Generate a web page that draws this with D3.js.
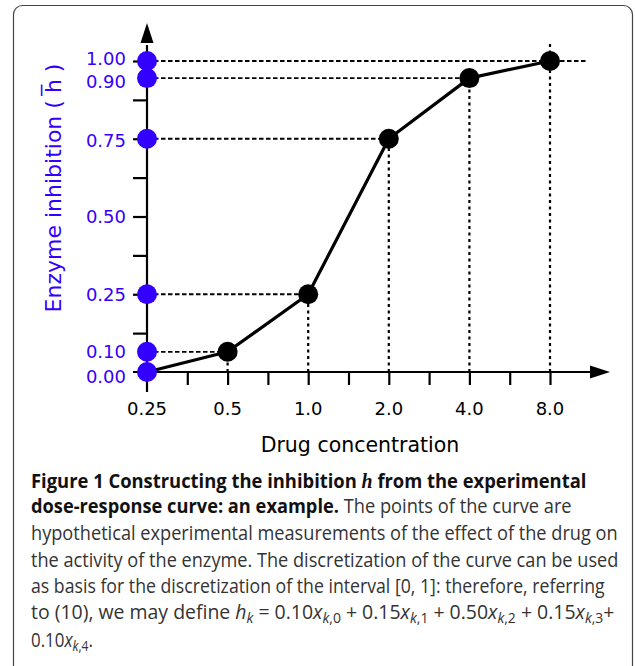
<!DOCTYPE html>
<html>
<head>
<meta charset="utf-8">
<script src="https://cdn.jsdelivr.net/npm/d3@7"></script>
<style>
  body { margin: 0; background: #fff; }
  svg { display: block; }
</style>
</head>
<body>
<script>
// data
const doses = [0.25, 0.5, 1, 2, 4, 8];
const inhibition = [0, 0.065, 0.25, 0.75, 0.945, 1.0];
const inhibitionLabels = ["0.00", "0.10", "0.25", "0.75", "0.90", "1.00"];
const doseLabels = ["0.25", "0.5", "1.0", "2.0", "4.0", "8.0"];
const yTicks = [0.125, 0.25, 0.375, 0.5, 0.625, 0.75, 0.875, 1.0];
const yTickLabels = { 0.5: "0.50" };

const blue = "#3300ff";

const svg = d3.select("body").append("svg")
  .attr("width", 635)
  .attr("height", 666);

// frame
svg.append("rect")
  .attr("x", 13.5).attr("y", 5.5)
  .attr("width", 619).attr("height", 720)
  .attr("rx", 9)
  .attr("fill", "none")
  .attr("stroke", "#444")
  .attr("stroke-width", 1.2);

// scales
var x = d3.scaleLog().base(2)
  .domain([0.25, 8])
  .range([147, 550]);
var y = d3.scaleLinear()
  .domain([0, 1])
  .range([372, 61]);

const pts = doses.map((d, i) => ({ dose: d, h: inhibition[i], label: inhibitionLabels[i] }));
const last = pts.length - 1;

// dashed guides
svg.append("g").selectAll("line")
  .data(pts.slice(1))
  .enter().append("line")
  .attr("x1", x(0.25))
  .attr("x2", (d, i) => x(d.dose) + (i === last - 1 ? 38 : 0))
  .attr("y1", d => y(d.h))
  .attr("y2", d => y(d.h))
  .attr("stroke", "#000")
  .attr("stroke-width", 1.8)
  .attr("stroke-dasharray", "4.5,2.5");

svg.append("g").selectAll("line")
  .data(pts.slice(1))
  .enter().append("line")
  .attr("x1", d => x(d.dose))
  .attr("x2", d => x(d.dose))
  .attr("y1", y(0))
  .attr("y2", (d, i) => y(d.h) - (i === last - 1 ? 19 : 0))
  .attr("stroke", "#000")
  .attr("stroke-width", 2.2)
  .attr("stroke-dasharray", "3,3.5");

// y axis ticks (left)
var yAxis = d3.axisLeft(y)
  .tickValues(yTicks)
  .tickSize(14)
  .tickFormat("");
var gy = svg.append("g")
  .attr("transform", "translate(147,0)")
  .call(yAxis);
gy.select(".domain").remove();
gy.selectAll(".tick line").attr("stroke", "#000").attr("stroke-width", 2.2);

// x axis ticks (bottom)
const minorDoses = doses.slice(0, -1).map(d => d * Math.SQRT2);
var xAxis = d3.axisBottom(x)
  .tickValues(doses.slice(1).concat(minorDoses))
  .tickSize(13)
  .tickFormat("");
var gx = svg.append("g")
  .attr("transform", "translate(0,372)")
  .call(xAxis);
gx.select(".domain").remove();
gx.selectAll(".tick line").attr("stroke", "#000").attr("stroke-width", 2.2);

// axis lines with arrows
svg.append("line")
  .attr("x1", x(0.25)).attr("x2", x(0.25))
  .attr("y1", y(0) + 20).attr("y2", y(1) - 16)
  .attr("stroke", "#000").attr("stroke-width", 2.2);
svg.append("path")
  .attr("d", d3.line()([[x(0.25) - 6.5, y(1) - 18], [x(0.25) + 6.5, y(1) - 18], [x(0.25), y(1) - 38]]) + "Z")
  .attr("fill", "#000");
svg.append("line")
  .attr("x1", x(0.25) - 14).attr("x2", x(8) + 42)
  .attr("y1", y(0)).attr("y2", y(0))
  .attr("stroke", "#000").attr("stroke-width", 2.2);
svg.append("path")
  .attr("d", d3.line()([[x(8) + 40, y(0) - 6.5], [x(8) + 40, y(0) + 6.5], [x(8) + 60, y(0)]]) + "Z")
  .attr("fill", "#000");

// curve
svg.append("path")
  .datum(pts)
  .attr("fill", "none")
  .attr("stroke", "#000")
  .attr("stroke-width", 3.2)
  .attr("stroke-linejoin", "round")
  .attr("d", d3.line().x(d => x(d.dose)).y(d => y(d.h)));

svg.append("g").selectAll("circle")
  .data(pts.slice(1))
  .enter().append("circle")
  .attr("cx", d => x(d.dose))
  .attr("cy", d => y(d.h))
  .attr("r", 10)
  .attr("fill", "#000");

// blue projections on the y axis
svg.append("g").selectAll("circle")
  .data(pts)
  .enter().append("circle")
  .attr("cx", x(0.25))
  .attr("cy", d => y(d.h))
  .attr("r", 10)
  .attr("fill", blue);

// y labels
const yLab = pts.map(d => ({ v: d.h, t: d.label }))
  .concat(Object.keys(yTickLabels).map(k => ({ v: +k, t: yTickLabels[k] })));
svg.append("g").selectAll("text")
  .data(yLab)
  .enter().append("text")
  .attr("x", 126)
  .attr("y", d => y(d.v) + (d.t === "0.00" ? 5 : d.t === "0.90" ? 3 : d.t === "1.00" ? -2 : d.t === "0.75" ? 2 : 0))
  .attr("dy", "0.36em")
  .attr("text-anchor", "end")
  .attr("fill", blue)
  .style("font-family", "'DejaVu Sans'")
  .style("font-size", "18px")
  .text(d => d.t);

// x labels
svg.append("g").selectAll("text")
  .data(doses)
  .enter().append("text")
  .attr("x", d => x(d))
  .attr("y", 415)
  .attr("text-anchor", "middle")
  .attr("fill", "#000")
  .style("font-family", "'DejaVu Sans'")
  .style("font-size", "18px")
  .text((d, i) => doseLabels[i]);

// axis titles
svg.append("text")
  .attr("x", 360).attr("y", 452)
  .attr("text-anchor", "middle")
  .style("font-family", "'DejaVu Sans'")
  .style("font-size", "20.5px")
  .text("Drug concentration");

svg.append("text")
  .attr("transform", "translate(61,188) rotate(-90)")
  .attr("text-anchor", "middle")
  .attr("fill", blue)
  .style("font-family", "'DejaVu Sans'")
  .style("font-size", "22px")
  .text("Enzyme inhibition ( h\u0305 )");

// caption: each line is squeezed horizontally to the reference width
const cap = svg.append("g").style("font-family", "'Open Sans'").style("font-size", "19.5px");
const capLines = [];
function line(yy, w) {
  var t = cap.append("text").attr("x", 0).attr("y", 0).attr("fill", "#333");
  capLines.push({ t: t, y: yy, w: w });
  return t;
}
var l1 = line(488, 556).attr("font-weight", "bold").attr("fill", "#111");
l1.append("tspan").text("Figure 1 Constructing the inhibition ");
l1.append("tspan").style("font-family", "'Liberation Serif'").style("font-style", "italic").style("font-size", "21px").text("h");
l1.append("tspan").text(" from the experimental");

var l2 = line(513, 541);
l2.append("tspan").attr("font-weight", "bold").attr("fill", "#111").text("dose-response curve: an example.");
l2.append("tspan").text(" The points of the curve are");

line(540, 587).text("hypothetical experimental measurements of the effect of the drug on");
line(567, 588).text("the activity of the enzyme. The discretization of the curve can be used");
line(593, 574).text("as basis for the discretization of the interval [0, 1]: therefore, referring");

// subscript "k,n"; the next tspan restores the baseline with dy -4
function sub(t, s) {
  t.append("tspan").attr("dy", 4).style("font-size", "14px").style("font-style", "italic").text("k");
  t.append("tspan").style("font-size", "14px").text("," + s);
}
var l6 = line(619, 584);
l6.append("tspan").text("to (10), we may define ");
l6.append("tspan").style("font-style", "italic").text("h");
l6.append("tspan").attr("dy", 4).style("font-size", "14px").style("font-style", "italic").text("k");
l6.append("tspan").attr("dy", -4).text(" = 0.10");
l6.append("tspan").style("font-style", "italic").text("x");
sub(l6, "0");
l6.append("tspan").attr("dy", -4).text(" + 0.15");
l6.append("tspan").style("font-style", "italic").text("x");
sub(l6, "1");
l6.append("tspan").attr("dy", -4).text(" + 0.50");
l6.append("tspan").style("font-style", "italic").text("x");
sub(l6, "2");
l6.append("tspan").attr("dy", -4).text(" + 0.15");
l6.append("tspan").style("font-style", "italic").text("x");
sub(l6, "3");
l6.append("tspan").attr("dy", -4).text("+");

var l7 = line(647, 62);
l7.append("tspan").text("0.10");
l7.append("tspan").style("font-style", "italic").text("x");
sub(l7, "4");
l7.append("tspan").attr("dy", -4).text(".");

capLines.forEach(function (c) {
  var nat = c.t.node().getComputedTextLength();
  c.t.attr("transform", "translate(31," + c.y + ") scale(" + (c.w / nat) + ",1)");
});
</script>
</body>
</html>
